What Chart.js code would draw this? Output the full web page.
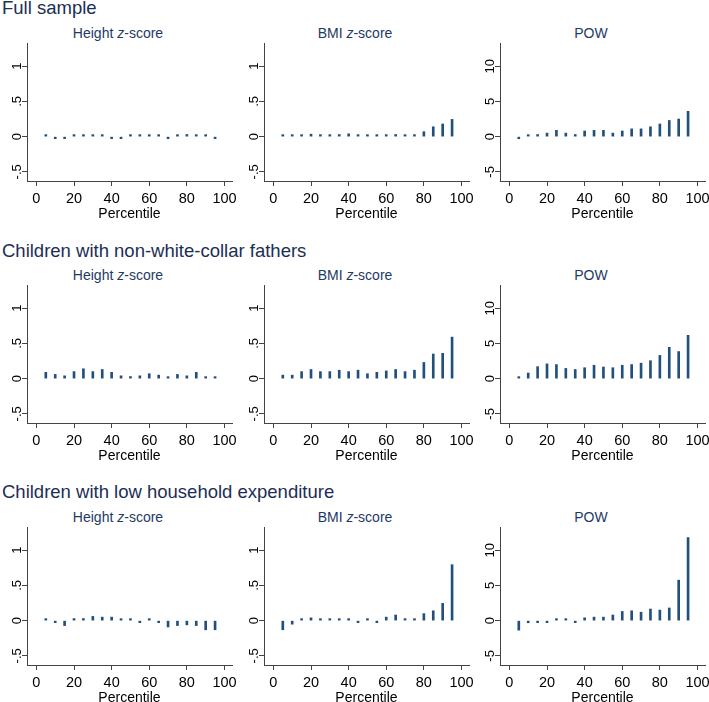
<!DOCTYPE html>
<html>
<head>
<meta charset="utf-8">
<script src="https://cdn.jsdelivr.net/npm/chart.js@4.4.1/dist/chart.umd.min.js"></script>
<style>
  body { margin: 0; background: #fff; width: 709px; height: 702px; position: relative; overflow: hidden;
         font-family: "Liberation Sans", Arial, sans-serif; }
  .row-title { position: absolute; left: 2px; font-size: 18.5px; line-height: 22px; color: #1c2e54; white-space: nowrap; }
  .sub { position: absolute; width: 236px; text-align: center; font-size: 14px; line-height: 16px; color: #1e3a66; white-space: nowrap; }
  canvas { position: absolute; }
</style>
</head>
<body>
<script>
// data
const percentiles = [5, 10, 15, 20, 25, 30, 35, 40, 45, 50, 55, 60, 65, 70, 75, 80, 85, 90, 95];
const xTicks = [0, 20, 40, 60, 80, 100];
const zTicks = [-0.5, 0, 0.5, 1];
const powTicks = [-5, 0, 5, 10];

const rowTitles = ['Full sample', 'Children with non-white-collar fathers', 'Children with low household expenditure'];
const colTitles = [['Height ', 'z', '-score'], ['BMI ', 'z', '-score'], ['POW', '', '']];

// Full sample
const fullHeight = [0.005, -0.02, -0.005, 0.005, 0.005, 0.005, 0.005, -0.005, -0.005, 0.005, 0.01, 0.02, 0.005, -0.01, 0.02, 0.03, 0.02, 0.005, -0.01];
const fullBmi = [0.005, 0.005, 0.015, 0.035, 0.01, 0.015, 0.03, 0.04, 0.005, 0.005, 0.005, 0.01, 0.03, 0.005, 0.005, 0.07, 0.14, 0.18, 0.245];
const fullPow = [-0.3, 0.1, 0.3, 0.5, 0.9, 0.5, 0.3, 0.8, 0.9, 0.9, 0.5, 0.8, 1.1, 1.1, 1.4, 1.8, 2.3, 2.5, 3.6];
// Non-white-collar fathers
const nwcHeight = [0.09, 0.06, 0.04, 0.1, 0.14, 0.1, 0.13, 0.09, 0.04, 0.03, 0.04, 0.07, 0.05, 0.01, 0.06, 0.04, 0.09, 0.005, 0.005];
const nwcBmi = [0.05, 0.05, 0.1, 0.13, 0.1, 0.1, 0.12, 0.1, 0.12, 0.07, 0.09, 0.11, 0.13, 0.1, 0.12, 0.23, 0.35, 0.36, 0.59];
const nwcPow = [0.1, 0.8, 1.7, 2.1, 2.0, 1.45, 1.3, 1.55, 1.9, 1.65, 1.55, 1.9, 2.0, 2.2, 2.55, 3.3, 4.45, 3.85, 6.15];
// Low household expenditure
const lowHeight = [0.005, -0.005, -0.07, 0.03, 0.03, 0.06, 0.05, 0.05, 0.005, 0.005, -0.005, 0.005, -0.02, -0.09, -0.07, -0.06, -0.07, -0.13, -0.13];
const lowBmi = [-0.13, -0.05, 0.01, 0.04, 0.02, 0.005, 0.005, 0.005, -0.005, 0.005, -0.01, 0.05, 0.08, 0.02, 0.02, 0.1, 0.14, 0.245, 0.795];
const lowPow = [-1.35, -0.3, -0.1, -0.1, 0.2, 0.05, -0.05, 0.4, 0.5, 0.5, 0.8, 1.3, 1.4, 1.2, 1.65, 1.5, 1.8, 5.75, 11.8];

const rowData = [
  [fullHeight, fullBmi, fullPow],
  [nwcHeight, nwcBmi, nwcPow],
  [lowHeight, lowBmi, lowPow]
];

const barColor = '#22507c';
const axisColor = '#444444';
const font = '"Liberation Sans", Arial, sans-serif';

const colLeft = [0, 237, 473];
const rowChartTop = [43, 285, 527];
const rowTitleTop = [-3.4, 239.6, 480.6];
const subTop = [25, 267, 509];

function fmtY(v) {
  if (v === 0) return '0';
  return String(v).replace('0.', '.');
}

// y tick labels are drawn rotated, as in the original
const yLabelPlugin = {
  id: 'yLabels',
  afterDraw(chart) {
    const s = chart.scales.y;
    const ctx = chart.ctx;
    ctx.save();
    ctx.fillStyle = '#000';
    ctx.font = '13px ' + font;
    ctx.textAlign = 'center';
    ctx.textBaseline = 'middle';
    s.ticks.forEach(t => {
      const y = s.getPixelForValue(t.value);
      ctx.save();
      ctx.translate(s.right - 10, y);
      ctx.rotate(-Math.PI / 2);
      ctx.fillText(fmtY(t.value), 0, 0);
      ctx.restore();
    });
    ctx.restore();
  }
};

rowTitles.forEach((t, r) => {
  const d = document.createElement('div');
  d.className = 'row-title';
  d.style.top = rowTitleTop[r] + 'px';
  d.textContent = t;
  document.body.appendChild(d);
});

for (let r = 0; r < 3; r++) {
  for (let c = 0; c < 3; c++) {
    const sub = document.createElement('div');
    sub.className = 'sub';
    sub.style.left = colLeft[c] + 'px';
    sub.style.top = subTop[r] + 'px';
    const [a, z, b] = colTitles[c];
    sub.appendChild(document.createTextNode(a));
    if (z) {
      const i = document.createElement('i');
      i.textContent = z;
      sub.appendChild(i);
    }
    sub.appendChild(document.createTextNode(b));
    document.body.appendChild(sub);

    const canvas = document.createElement('canvas');
    canvas.width = 245;
    canvas.height = 181;
    canvas.style.left = colLeft[c] + 'px';
    canvas.style.top = (rowChartTop[r] - 1) + 'px';
    document.body.appendChild(canvas);

    const isPow = c === 2;
    const vals = rowData[r][c];
    const yTickVals = isPow ? powTicks : zTicks;

    new Chart(canvas, {
      type: 'bar',
      data: {
        datasets: [{
          data: percentiles.map((p, i) => ({ x: p, y: vals[i] })),
          backgroundColor: barColor,
          borderWidth: 0,
          barThickness: 2,
          maxBarThickness: 2,
          minBarLength: 2
        }]
      },
      options: {
        responsive: false,
        animation: false,
        devicePixelRatio: 1,
        layout: { padding: { top: 1, right: 13, left: 0, bottom: 0 } },
        plugins: { legend: { display: false }, tooltip: { enabled: false }, title: { display: false } },
        scales: {
          x: {
            type: 'linear',
            offset: false,
            min: -5,
            max: 104,
            afterBuildTicks: s => { s.ticks = xTicks.map(v => ({ value: v })); },
            afterFit: s => { s.height = 42; s.paddingLeft = 0; s.paddingRight = 0; },
            ticks: { color: '#000', font: { size: 14.5, family: font }, padding: 4, maxRotation: 0, autoSkip: false },
            grid: { display: true, offset: false, drawOnChartArea: false, drawTicks: true, tickLength: 5, color: axisColor },
            border: { display: true, color: axisColor, width: 1 },
            title: { display: true, text: 'Percentile', color: '#000', font: { size: 14, family: font }, padding: 0 }
          },
          y: {
            type: 'linear',
            min: isPow ? -6.3 : -0.63,
            max: isPow ? 13.3 : 1.33,
            afterBuildTicks: s => { s.ticks = yTickVals.map(v => ({ value: v })); },
            afterFit: s => { s.width = 27; s.paddingTop = 0; s.paddingBottom = 0; },
            ticks: { display: false },
            grid: { display: true, drawOnChartArea: false, drawTicks: true, tickLength: 5, color: axisColor },
            border: { display: true, color: axisColor, width: 1 }
          }
        }
      },
      plugins: [yLabelPlugin]
    });
  }
}
</script>
</body>
</html>
